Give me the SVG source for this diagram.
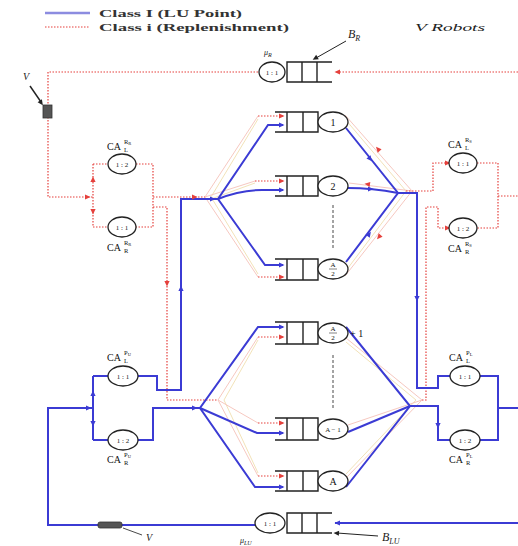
<svg xmlns="http://www.w3.org/2000/svg" xmlns:xlink="http://www.w3.org/1999/xlink" width="518" height="546" viewBox="0 0 518 546">
<style>
.b{fill:none;stroke:#3b3bd4;stroke-width:2}
.r{fill:none;stroke:#e5403c;stroke-width:1.2;stroke-dasharray:1.5 1.5}
.pk{fill:none;stroke:#f6c8c0;stroke-width:1}
.yl{fill:none;stroke:#f2e2b8;stroke-width:1}
.q{fill:none;stroke:#222;stroke-width:1.4}
.sv{fill:#fff;stroke:#222;stroke-width:1.3}
.dash{fill:none;stroke:#333;stroke-width:0.9;stroke-dasharray:3 2}
.t{font-family:"Liberation Serif",serif;fill:#111}
.lg{font-family:"Liberation Serif",serif;font-weight:bold;font-size:11px;fill:#333}
.it{font-family:"Liberation Serif",serif;font-style:italic;fill:#222}
.ci{font-family:"Liberation Serif",serif;font-size:7px;fill:#222;text-anchor:middle}
.ca{font-family:"Liberation Serif",serif;font-size:10px;fill:#111}
.cs{font-family:"Liberation Serif",serif;font-size:6.5px;fill:#111}
.ab{fill:#3b3bd4}
.ar{fill:#e5403c}
.dev{fill:#555;stroke:#333;stroke-width:0.8}
</style>
<defs>
<path id="ah" d="M-4,-2.6 L1.5,0 L-4,2.6 z"/>
</defs>

<g id="legend">
<line x1="45" y1="13" x2="90" y2="13" stroke="#8c8ce0" stroke-width="2.5"/>
<line x1="45" y1="27" x2="90" y2="27" class="r"/>
<text class="lg" x="99" y="17" textLength="143" lengthAdjust="spacingAndGlyphs">Class I (LU Point)</text>
<text class="lg" x="99" y="31" textLength="190" lengthAdjust="spacingAndGlyphs">Class i (Replenishment)</text>
<text class="it" x="415" y="31" font-size="10" textLength="70" lengthAdjust="spacingAndGlyphs">V  Robots</text>
</g>

<g id="connectors">
<!-- faint replenishment lines -->
<polyline class="pk" points="258,116 205,197 258,277"/>
<polyline class="yl" points="258,119 211,197 258,274"/>
<polyline class="pk" points="205,197 255,181"/>
<polyline class="yl" points="211,199 255,183"/>
<polyline class="pk" points="258,337 218,400 258,476"/>
<polyline class="yl" points="258,340 224,400 258,473"/>
<polyline class="pk" points="218,400 258,423"/>
<polyline class="pk" points="345,115 412,191 345,276"/>
<polyline class="yl" points="345,119 406,191 345,272"/>
<polyline class="pk" points="349,183 412,191"/>
<polyline class="pk" points="346,338 422,400 346,478"/>
<polyline class="yl" points="346,342 416,400 346,474"/>
<polyline class="pk" points="348,425 422,400"/>

<!-- red dotted -->
<line class="r" x1="518" y1="72" x2="335" y2="72"/>
<polyline class="r" points="258,72 48,72 48,197 93,197"/>
<line class="r" x1="93" y1="164" x2="93" y2="227"/>
<line class="r" x1="93" y1="164" x2="108" y2="164"/>
<line class="r" x1="93" y1="227" x2="108" y2="227"/>
<polyline class="r" points="136,164 153,164 153,227 136,227"/>
<line class="r" x1="153" y1="197" x2="205" y2="197"/>
<polyline class="r" points="153,207 167,207 167,400 218,400"/>
<line class="r" x1="258" y1="116" x2="283" y2="116"/>
<line class="r" x1="255" y1="181" x2="283" y2="181"/>
<line class="r" x1="258" y1="277" x2="283" y2="277"/>
<line class="r" x1="258" y1="337" x2="283" y2="337"/>
<line class="r" x1="258" y1="423" x2="283" y2="423"/>
<line class="r" x1="258" y1="476" x2="283" y2="476"/>
<polyline class="r" points="406,191 433,191 433,163 449,163"/>
<polyline class="r" points="422,400 426,400 426,207 438,207 438,228 449,228"/>
<polyline class="r" points="477,163 498,163 498,228 477,228"/>
<line class="r" x1="498" y1="196" x2="518" y2="196"/>

<!-- blue -->
<polyline class="b" points="255,525 48,525 48,408 93,408"/>
<line class="b" x1="93" y1="376" x2="93" y2="440"/>
<line class="b" x1="93" y1="376" x2="108" y2="376"/>
<line class="b" x1="93" y1="440" x2="108" y2="440"/>
<polyline class="b" points="138,376 157,376 157,390 181,390 181,199 218,199"/>
<polyline class="b" points="138,440 153,440 153,408 200,408"/>
<polyline class="b" points="283,125 268,125 218,199 265,265 283,265"/>
<path class="b" d="M218,199 Q240,190 262,190 L283,190"/>
<polyline class="b" points="283,327 258,327 200,408 255,487 283,487"/>
<path class="b" d="M200,408 L257,433 L283,433"/>
<polyline class="b" points="346,128 398,193 346,262"/>
<path class="b" d="M348,188 Q372,188 398,193"/>
<polyline class="b" points="346,327 410,406 346,487"/>
<line class="b" x1="348" y1="432" x2="410" y2="406"/>
<polyline class="b" points="398,193 417,193 417,388 438,388 438,376 450,376"/>
<polyline class="b" points="410,406 438,406 438,440 450,440"/>
<polyline class="b" points="480,376 498,376 498,440 480,440"/>
<line class="b" x1="498" y1="408" x2="518" y2="408"/>
<line class="b" x1="518" y1="523" x2="335" y2="523"/>

<!-- arrowheads blue -->
<use xlink:href="#ah" class="ab" transform="translate(283,125)"/>
<use xlink:href="#ah" class="ab" transform="translate(283,190)"/>
<use xlink:href="#ah" class="ab" transform="translate(283,265)"/>
<use xlink:href="#ah" class="ab" transform="translate(283,327)"/>
<use xlink:href="#ah" class="ab" transform="translate(283,433)"/>
<use xlink:href="#ah" class="ab" transform="translate(283,487)"/>
<use xlink:href="#ah" class="ab" transform="translate(90,408)"/>
<use xlink:href="#ah" class="ab" transform="translate(93,392) rotate(-90)"/>
<use xlink:href="#ah" class="ab" transform="translate(93,425) rotate(90)"/>
<use xlink:href="#ah" class="ab" transform="translate(181,287) rotate(-90)"/>
<use xlink:href="#ah" class="ab" transform="translate(214,199)"/>
<use xlink:href="#ah" class="ab" transform="translate(196,408)"/>
<use xlink:href="#ah" class="ab" transform="translate(371,160) rotate(51)"/>
<use xlink:href="#ah" class="ab" transform="translate(372,189)"/>
<use xlink:href="#ah" class="ab" transform="translate(370,233) rotate(-54)"/>
<use xlink:href="#ah" class="ab" transform="translate(417,300) rotate(90)"/>
<use xlink:href="#ah" class="ab" transform="translate(438,427) rotate(90)"/>
<use xlink:href="#ah" class="ab" transform="translate(336,523) rotate(180)"/>
<!-- arrowheads red -->
<use xlink:href="#ah" class="ar" transform="translate(336,72) rotate(180)"/>
<use xlink:href="#ah" class="ar" transform="translate(89,197)"/>
<use xlink:href="#ah" class="ar" transform="translate(93,178) rotate(-90)"/>
<use xlink:href="#ah" class="ar" transform="translate(93,213) rotate(90)"/>
<use xlink:href="#ah" class="ar" transform="translate(196,197)"/>
<use xlink:href="#ah" class="ar" transform="translate(167,285) rotate(90)"/>
<use xlink:href="#ah" class="ar" transform="translate(283,116)"/>
<use xlink:href="#ah" class="ar" transform="translate(283,181)"/>
<use xlink:href="#ah" class="ar" transform="translate(283,277)"/>
<use xlink:href="#ah" class="ar" transform="translate(283,337)"/>
<use xlink:href="#ah" class="ar" transform="translate(283,423)"/>
<use xlink:href="#ah" class="ar" transform="translate(283,476)"/>
<use xlink:href="#ah" class="ar" transform="translate(377,148) rotate(-131)"/>
<use xlink:href="#ah" class="ar" transform="translate(366,184) rotate(-173)"/>
<use xlink:href="#ah" class="ar" transform="translate(378,238) rotate(131)"/>
<use xlink:href="#ah" class="ar" transform="translate(449,163)"/>
<use xlink:href="#ah" class="ar" transform="translate(449,228)"/>
</g>

<g id="node-BR">
<polyline class="q" points="332,62 287,62 287,82 332,82"/>
<line class="q" x1="302" y1="62" x2="302" y2="82"/>
<line class="q" x1="317" y1="62" x2="317" y2="82"/>
<ellipse class="sv" cx="272" cy="72" rx="13" ry="10"/>
<text class="ci" x="272" y="74.5">1 : 1</text>
<text class="it" x="264" y="55" font-size="8">μ<tspan font-size="6" dy="2">R</tspan></text>
<text class="it" x="348" y="38" font-size="12">B<tspan font-size="8" dy="3">R</tspan></text>
<line x1="346" y1="41" x2="316" y2="58" stroke="#222" stroke-width="1"/>
<use xlink:href="#ah" fill="#222" transform="translate(314,59) rotate(150)"/>
</g>

<g id="node-V-top">
<rect class="dev" x="43" y="105" width="9" height="13"/>
<text class="it" x="23" y="80" font-size="10">V</text>
<line x1="30" y1="86" x2="41" y2="102" stroke="#222" stroke-width="1.5"/>
<use xlink:href="#ah" fill="#222" transform="translate(42,104) rotate(56)"/>
</g>

<g id="node-CA-RR">
<ellipse class="sv" cx="122" cy="164" rx="14" ry="10"/>
<text class="ci" x="122" y="166.5">1 : 2</text>
<ellipse class="sv" cx="122" cy="227" rx="14" ry="10"/>
<text class="ci" x="122" y="229.5">1 : 1</text>
<text class="ca" x="107" y="150">CA</text><text class="cs" x="124" y="144">R<tspan font-size="4.5" dy="1">R</tspan></text><text class="cs" x="124" y="152">L</text>
<text class="ca" x="107" y="251">CA</text><text class="cs" x="124" y="245">R<tspan font-size="4.5" dy="1">R</tspan></text><text class="cs" x="124" y="253">R</text>
</g>

<g id="node-CA-PU">
<ellipse class="sv" cx="123" cy="376" rx="15" ry="10"/>
<text class="ci" x="123" y="378.5">1 : 1</text>
<ellipse class="sv" cx="123" cy="440" rx="15" ry="10"/>
<text class="ci" x="123" y="442.5">1 : 2</text>
<text class="ca" x="107" y="361">CA</text><text class="cs" x="124" y="355">P<tspan font-size="4.5" dy="1">U</tspan></text><text class="cs" x="124" y="363">L</text>
<text class="ca" x="107" y="463">CA</text><text class="cs" x="124" y="457">P<tspan font-size="4.5" dy="1">U</tspan></text><text class="cs" x="124" y="465">R</text>
</g>

<g id="node-CA-RS">
<ellipse class="sv" cx="463" cy="163" rx="14" ry="10"/>
<text class="ci" x="463" y="165.5">1 : 1</text>
<ellipse class="sv" cx="463" cy="228" rx="14" ry="10"/>
<text class="ci" x="463" y="230.5">1 : 2</text>
<text class="ca" x="448" y="148">CA</text><text class="cs" x="465" y="142">R<tspan font-size="4.5" dy="1">S</tspan></text><text class="cs" x="465" y="150">L</text>
<text class="ca" x="448" y="252">CA</text><text class="cs" x="465" y="246">R<tspan font-size="4.5" dy="1">S</tspan></text><text class="cs" x="465" y="254">R</text>
</g>

<g id="node-CA-PL">
<ellipse class="sv" cx="465" cy="376" rx="15" ry="10"/>
<text class="ci" x="465" y="378.5">1 : 1</text>
<ellipse class="sv" cx="465" cy="440" rx="15" ry="10"/>
<text class="ci" x="465" y="442.5">1 : 2</text>
<text class="ca" x="449" y="361">CA</text><text class="cs" x="466" y="355">P<tspan font-size="4.5" dy="1">L</tspan></text><text class="cs" x="466" y="363">L</text>
<text class="ca" x="449" y="463">CA</text><text class="cs" x="466" y="457">P<tspan font-size="4.5" dy="1">L</tspan></text><text class="cs" x="466" y="465">R</text>
</g>

<g id="node-Q1">
<polyline class="q" points="275,112 318,112 318,132 275,132"/>
<line class="q" x1="287" y1="112" x2="287" y2="132"/><line class="q" x1="303" y1="112" x2="303" y2="132"/>
<ellipse class="sv" cx="333" cy="122" rx="15" ry="10"/>
<text class="t" x="333" y="126" font-size="10" text-anchor="middle">1</text>
</g>
<g id="node-Q2">
<polyline class="q" points="275,176 318,176 318,196 275,196"/>
<line class="q" x1="287" y1="176" x2="287" y2="196"/><line class="q" x1="303" y1="176" x2="303" y2="196"/>
<ellipse class="sv" cx="333" cy="186" rx="15" ry="10"/>
<text class="t" x="333" y="190" font-size="10" text-anchor="middle">2</text>
</g>
<line id="dots-top" class="dash" x1="333" y1="205" x2="333" y2="250"/>
<g id="node-QA2">
<polyline class="q" points="275,259 318,259 318,280 275,280"/>
<line class="q" x1="287" y1="259" x2="287" y2="280"/><line class="q" x1="303" y1="259" x2="303" y2="280"/>
<ellipse class="sv" cx="333" cy="269" rx="15" ry="10"/>
<text class="t" x="333" y="267" font-size="7" text-anchor="middle">A</text>
<line x1="329" y1="269" x2="337" y2="269" stroke="#333" stroke-width="0.6"/>
<text class="t" x="333" y="276" font-size="7" text-anchor="middle">2</text>
</g>

<g id="node-QA21">
<polyline class="q" points="275,322 318,322 318,344 275,344"/>
<line class="q" x1="287" y1="322" x2="287" y2="344"/><line class="q" x1="303" y1="322" x2="303" y2="344"/>
<ellipse class="sv" cx="333" cy="333" rx="15" ry="10"/>
<text class="t" x="333" y="331" font-size="7" text-anchor="middle">A</text>
<line x1="329" y1="333" x2="337" y2="333" stroke="#333" stroke-width="0.6"/>
<text class="t" x="333" y="340" font-size="7" text-anchor="middle">2</text>
<text class="t" x="350" y="337" font-size="10">+ 1</text>
</g>
<line id="dots-bottom" class="dash" x1="333" y1="355" x2="333" y2="410"/>
<g id="node-QA1">
<polyline class="q" points="275,418 318,418 318,440 275,440"/>
<line class="q" x1="287" y1="418" x2="287" y2="440"/><line class="q" x1="303" y1="418" x2="303" y2="440"/>
<ellipse class="sv" cx="333" cy="429" rx="15" ry="10"/>
<text class="ci" x="333" y="431.5">A − 1</text>
</g>
<g id="node-QA">
<polyline class="q" points="275,471 318,471 318,491 275,491"/>
<line class="q" x1="287" y1="471" x2="287" y2="491"/><line class="q" x1="303" y1="471" x2="303" y2="491"/>
<ellipse class="sv" cx="333" cy="481" rx="15" ry="10"/>
<text class="t" x="333" y="485" font-size="10" text-anchor="middle">A</text>
</g>

<g id="node-BLU">
<polyline class="q" points="332,513 287,513 287,533 332,533"/>
<line class="q" x1="302" y1="513" x2="302" y2="533"/>
<line class="q" x1="317" y1="513" x2="317" y2="533"/>
<ellipse class="sv" cx="270" cy="523" rx="15" ry="10"/>
<text class="ci" x="270" y="525.5">1 : 1</text>
<text class="it" x="240" y="543" font-size="8">μ<tspan font-size="6" dy="2">LU</tspan></text>
<text class="it" x="382" y="541" font-size="12">B<tspan font-size="8" dy="3">LU</tspan></text>
<line x1="378" y1="536" x2="337" y2="533" stroke="#222" stroke-width="1"/>
<use xlink:href="#ah" fill="#222" transform="translate(335,533) rotate(184)"/>
</g>

<g id="node-V-bottom">
<rect class="dev" x="98" y="522" width="24" height="6" rx="2"/>
<line x1="123" y1="528" x2="142" y2="535" stroke="#333" stroke-width="0.9"/>
<text class="it" x="146" y="541" font-size="10">V</text>
</g>
</svg>
